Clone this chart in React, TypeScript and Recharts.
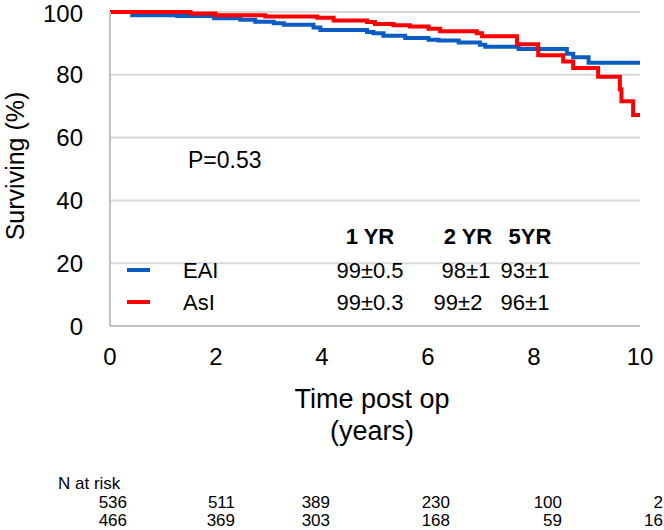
import React from "react";
import { LineChart, Line, XAxis, YAxis, CartesianGrid } from "recharts";

// axis ticks
const xTicks = [0, 2, 4, 6, 8, 10];
const yTicks = [0, 20, 40, 60, 80, 100];

// Kaplan-Meier steps (years, % surviving)
const eaiTimes = [0, 0.42, 1.27, 1.96, 2.46, 2.74, 3.09, 3.28, 3.84, 3.97, 4.85, 4.97, 5.16, 5.57, 6.01, 6.2, 6.58, 6.98, 7.08, 7.71, 8.62, 8.74, 9.03, 10];
const eaiSurvival = [100, 99.0, 98.7, 98.0, 97.5, 96.9, 96.4, 95.9, 95.1, 94.3, 93.6, 93.2, 92.4, 91.7, 91.2, 90.9, 90.3, 89.6, 88.9, 88.2, 86.7, 85.6, 83.8, 83.8];
const asiTimes = [0, 1.52, 1.99, 2.93, 3.91, 4.22, 4.85, 5.0, 5.35, 5.66, 6.01, 6.23, 6.92, 7.02, 7.68, 8.08, 8.55, 8.74, 9.21, 9.62, 9.65, 9.87, 10];
const asiSurvival = [100, 99.5, 99.0, 98.6, 98.2, 97.3, 96.8, 96.2, 95.8, 95.4, 94.7, 93.9, 93.2, 92.3, 89.7, 86.2, 84.2, 82.2, 79.4, 75.4, 71.6, 67.2, 67.2];

// survival table
const groupNames = ["EAI", "AsI"];
const yearHeaders = ["1 YR", "2 YR", "5YR"];
const eaiRates = ["99±0.5", "98±1", "93±1"];
const asiRates = ["99±0.3", "99±2", "96±1"];
const pValue = "P=0.53";

// numbers at risk
const riskLabel = "N at risk";
const eaiAtRisk = [536, 511, 389, 230, 100, 2];
const asiAtRisk = [466, 369, 303, 168, 59, 16];

const BLUE = "#0a5bc4";
const RED = "#ff0000";
const FONT = "'Liberation Sans', Arial, sans-serif";

const toPoints = (ts: number[], vs: number[]) => ts.map((t, i) => ({ t, v: vs[i] }));
const eaiData = toPoints(eaiTimes, eaiSurvival);
const asiData = toPoints(asiTimes, asiSurvival);

// overlay layout
const headerX = [370, 468, 530];
const rateX = [
  [370, 466, 525],
  [370, 458, 525],
];
const rowY = [278, 310];
const riskRight = [127, 235, 330, 450, 562, 663];

function Overlay() {
  const rows = [eaiRates, asiRates];
  const colors = [BLUE, RED];
  return (
    <svg
      width={664}
      height={530}
      style={{ position: "absolute", left: 0, top: 0, pointerEvents: "none" }}
      fontFamily={FONT}
    >
      <text x={24} y={166} fontSize={25} textAnchor="middle" transform="rotate(-90 24 166)" fill="#000">
        Surviving (%)
      </text>
      <text x={372} y={408} fontSize={27} textAnchor="middle" fill="#000">
        Time post op
      </text>
      <text x={372} y={440} fontSize={27} textAnchor="middle" fill="#000">
        (years)
      </text>
      <text x={188} y={168} fontSize={23} fill="#000">
        {pValue}
      </text>
      {yearHeaders.map((h, i) => (
        <text key={h} x={headerX[i]} y={244} fontSize={22} fontWeight="bold" textAnchor="middle" fill="#000">
          {h}
        </text>
      ))}
      {groupNames.map((g, r) => (
        <g key={g}>
          <line x1={127} x2={150} y1={rowY[r] - 8} y2={rowY[r] - 8} stroke={colors[r]} strokeWidth={4} />
          <text x={183} y={rowY[r]} fontSize={22} fill="#000">
            {g}
          </text>
          {rows[r].map((val, c) => (
            <text key={c} x={rateX[r][c]} y={rowY[r]} fontSize={22} textAnchor="middle" fill="#000">
              {val}
            </text>
          ))}
        </g>
      ))}
      <text x={58} y={489} fontSize={17} fill="#000">
        {riskLabel}
      </text>
      {[eaiAtRisk, asiAtRisk].map((row, r) =>
        row.map((n, c) => (
          <text key={`${r}-${c}`} x={riskRight[c]} y={508 + r * 18} fontSize={17} textAnchor="end" fill="#000">
            {n}
          </text>
        ))
      )}
    </svg>
  );
}

export default function App() {
  return (
    <div style={{ position: "absolute", left: 0, top: 0, width: 664, height: 530, background: "#fff" }}>
      <LineChart width={664} height={530} margin={{ top: 12, right: 24, left: 0, bottom: 0 }}>
        <CartesianGrid vertical={false} stroke="#d9d9d9" strokeWidth={2} />
        <XAxis
          dataKey="t"
          type="number"
          domain={[0, 10]}
          ticks={xTicks}
          height={204}
          tickSize={0}
          tickMargin={22}
          tick={{ fontSize: 24, fill: "#000", fontFamily: FONT }}
          axisLine={{ stroke: "#bfbfbf", strokeWidth: 2 }}
          tickLine={false}
          allowDataOverflow
        />
        <YAxis
          type="number"
          domain={[0, 100]}
          ticks={yTicks}
          width={110}
          tickSize={0}
          tickMargin={27}
          tick={{ fontSize: 24, fill: "#000", fontFamily: FONT }}
          axisLine={{ stroke: "#bfbfbf", strokeWidth: 2 }}
          tickLine={false}
        />
        <Line data={eaiData} dataKey="v" type="stepAfter" stroke={BLUE} strokeWidth={4} dot={false} isAnimationActive={false} />
        <Line data={asiData} dataKey="v" type="stepAfter" stroke={RED} strokeWidth={4} dot={false} isAnimationActive={false} />
      </LineChart>
      <Overlay />
    </div>
  );
}
